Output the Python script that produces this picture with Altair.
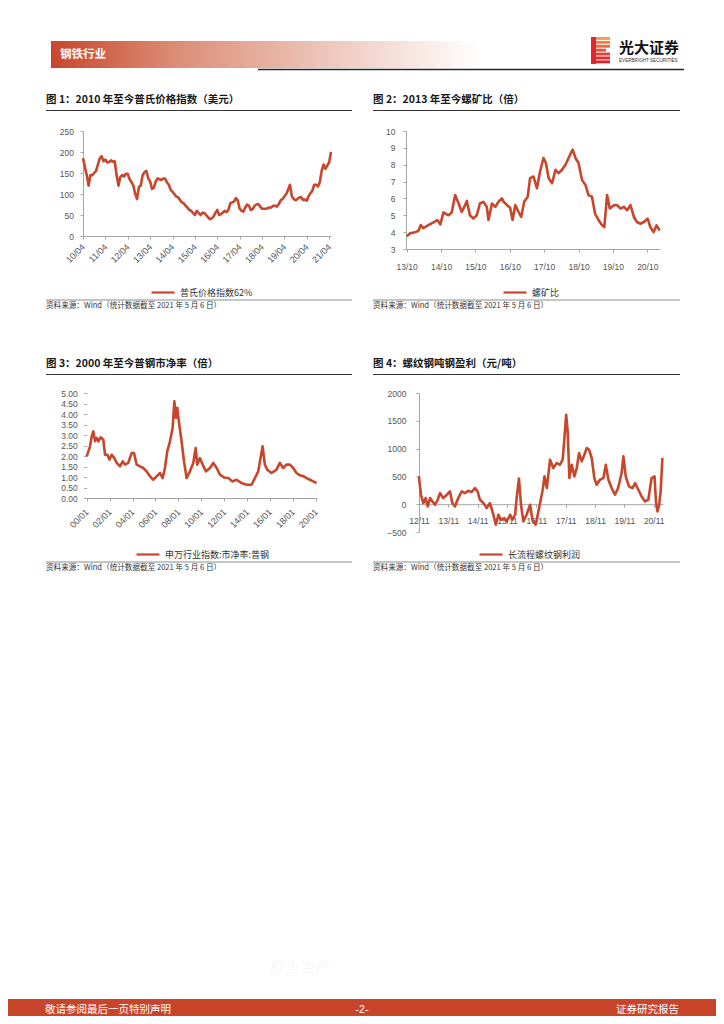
import altair as alt
import pandas as pd

# ---------------- text content ----------------
header_label = "钢铁行业"
brand_cn = "光大证券"
brand_en = "EVERBRIGHT SECURITIES"
footer_left = "敬请参阅最后一页特别声明"
footer_mid = "-2-"
footer_right = "证券研究报告"
watermark = "原点资产"
source_note = "资料来源：Wind（统计数据截至 2021 年 5 月 6 日）"

# ---------------- chart 1: Platts 62% ----------------
c1_title = "图 1：2010 年至今普氏价格指数（美元）"
c1_series = "普氏价格指数62%"
c1_start = "2010-04"
c1_values = [
    185, 165, 145, 120, 145, 145, 150, 155, 170,
    185, 190, 178, 182, 175, 176, 180, 177, 178, 145, 120, 140,
    145, 142, 148, 148, 135, 128, 120, 100, 88, 117, 120, 145,
    152, 155, 137, 130, 112, 115, 130, 137, 135, 133, 137, 137,
    128, 122, 110, 105, 100, 94, 92, 86, 80, 78, 72, 68,
    62, 60, 55, 50, 60, 55, 50, 55, 55, 50, 45, 40,
    42, 46, 55, 62, 50, 52, 56, 60, 57, 62, 78, 80,
    82, 90, 85, 65, 60, 58, 68, 75, 72, 62, 64, 72,
    75, 76, 70, 65, 65, 65, 66, 68, 68, 72, 72, 70,
    76, 85, 88, 94, 100, 110, 122, 95, 88, 85, 88, 92,
    92, 86, 87, 84, 95, 102, 108, 122, 122, 118, 128, 155,
    170, 160, 168, 175, 200,
]
c1_tick_pos = [2010.25, 2011.25, 2012.25, 2013.25, 2014.25, 2015.25,
               2016.25, 2017.25, 2018.25, 2019.25, 2020.25, 2021.25]
c1_tick_lab = ["10/04", "11/04", "12/04", "13/04", "14/04", "15/04",
               "16/04", "17/04", "18/04", "19/04", "20/04", "21/04"]
c1_yticks = [0, 50, 100, 150, 200, 250]

# ---------------- chart 2: rebar / ore ratio ----------------
c2_title = "图 2：2013 年至今螺矿比（倍）"
c2_series = "螺矿比"
c2_x = [
    2013.75, 2013.85, 2013.99, 2014.09, 2014.16, 2014.23, 2014.38, 2014.53, 2014.64, 2014.73,
    2014.82, 2014.97, 2015.06, 2015.16, 2015.26, 2015.35, 2015.45, 2015.50, 2015.59, 2015.69,
    2015.79, 2015.88, 2015.98, 2016.08, 2016.13, 2016.23, 2016.33, 2016.42, 2016.52, 2016.57,
    2016.67, 2016.76, 2016.83, 2016.91, 2016.98, 2017.08, 2017.17, 2017.27, 2017.34, 2017.44,
    2017.54, 2017.63, 2017.73, 2017.80, 2017.88, 2017.98, 2018.08, 2018.17, 2018.27, 2018.37,
    2018.46, 2018.53, 2018.58, 2018.66, 2018.75, 2018.85, 2018.95, 2019.04, 2019.14, 2019.23,
    2019.33, 2019.43, 2019.50, 2019.58, 2019.66, 2019.78, 2019.87, 2019.97, 2020.07, 2020.16,
    2020.26, 2020.36, 2020.45, 2020.55, 2020.65, 2020.76, 2020.84, 2020.93, 2021.02, 2021.11,
]
c2_values = [
    3.75, 3.93, 4.00, 4.07, 4.42, 4.23, 4.42, 4.58, 4.72, 4.46,
    5.17, 5.00, 5.17, 6.20, 5.70, 5.20, 5.60, 5.85, 5.00, 4.80,
    5.00, 5.70, 5.80, 5.50, 4.72, 5.70, 5.50, 5.80, 6.00, 5.80,
    5.60, 5.45, 4.72, 5.60, 5.30, 4.90, 5.80, 6.10, 7.20, 7.30,
    6.60, 7.60, 8.40, 8.10, 7.20, 6.90, 7.70, 7.50, 7.70, 8.00,
    8.40, 8.70, 8.90, 8.40, 8.10, 7.10, 6.80, 6.20, 6.10, 5.10,
    4.72, 4.42, 4.30, 6.20, 5.40, 5.60, 5.60, 5.40, 5.50, 5.30,
    5.60, 4.90, 4.60, 4.50, 4.60, 4.80, 4.30, 4.00, 4.40, 4.10,
]
c2_tick_pos = [2013.75, 2014.75, 2015.75, 2016.75, 2017.75, 2018.75, 2019.75, 2020.75]
c2_tick_lab = ["13/10", "14/10", "15/10", "16/10", "17/10", "18/10", "19/10", "20/10"]
c2_yticks = [3, 4, 5, 6, 7, 8, 9, 10]

# ---------------- chart 3: steel P/B ----------------
c3_title = "图 3：2000 年至今普钢市净率（倍）"
c3_series = "申万行业指数:市净率:普钢"
c3_x = [
    2000.00, 2000.15, 2000.29, 2000.44, 2000.58, 2000.73, 2000.87, 2001.02, 2001.22, 2001.45,
    2001.60, 2001.80, 2001.98, 2002.18, 2002.41, 2002.62, 2002.91, 2003.14, 2003.34, 2003.63,
    2003.92, 2004.13, 2004.36, 2004.65, 2004.94, 2005.23, 2005.52, 2005.81, 2006.10, 2006.40,
    2006.63, 2006.83, 2007.03, 2007.27, 2007.50, 2007.65, 2007.79, 2007.91, 2008.08, 2008.28,
    2008.49, 2008.72, 2009.01, 2009.30, 2009.51, 2009.65, 2009.88, 2010.12, 2010.41, 2010.76,
    2011.05, 2011.34, 2011.63, 2011.98, 2012.35, 2012.73, 2013.08, 2013.52, 2013.95, 2014.39,
    2014.68, 2014.97, 2015.17, 2015.35, 2015.55, 2015.76, 2016.13, 2016.57, 2016.86, 2017.15,
    2017.44, 2017.73, 2018.02, 2018.31, 2018.60, 2018.95, 2019.19, 2019.48, 2019.77, 2020.06,
]
c3_values = [
    1.98, 2.22, 2.46, 2.94, 3.17, 2.70, 2.86, 2.70, 2.89, 2.78,
    2.06, 2.06, 1.83, 2.06, 1.90, 1.67, 1.51, 1.75, 1.59, 1.67,
    2.14, 2.14, 1.59, 1.51, 1.43, 1.27, 1.03, 0.87, 1.03, 1.19,
    0.95, 1.43, 2.22, 2.70, 3.33, 4.60, 3.81, 4.29, 3.49, 2.70,
    1.75, 0.95, 1.27, 1.67, 2.38, 1.59, 1.90, 1.59, 1.27, 1.43,
    1.67, 1.43, 1.11, 0.98, 0.95, 0.79, 0.87, 0.71, 0.63, 0.63,
    0.95, 1.27, 1.90, 2.46, 1.59, 1.35, 1.19, 1.35, 1.67, 1.43,
    1.59, 1.59, 1.43, 1.19, 1.08, 1.03, 0.95, 0.87, 0.79, 0.71,
]
c3_tick_pos = [2000, 2002, 2004, 2006, 2008, 2010, 2012, 2014, 2016, 2018, 2020]
c3_tick_lab = ["00/01", "02/01", "04/01", "06/01", "08/01", "10/01",
               "12/01", "14/01", "16/01", "18/01", "20/01"]
c3_yticks = [0, 0.5, 1, 1.5, 2, 2.5, 3, 3.5, 4, 4.5, 5]

# ---------------- chart 4: rebar profit ----------------
c4_title = "图 4：螺纹钢吨钢盈利（元/吨）"
c4_series = "长流程螺纹钢利润"
c4_x = [
    2012.83, 2012.90, 2012.98, 2013.06, 2013.13, 2013.21, 2013.29, 2013.38, 2013.47, 2013.55,
    2013.66, 2013.78, 2013.89, 2013.97, 2014.06, 2014.17, 2014.29, 2014.40, 2014.51, 2014.63,
    2014.74, 2014.83, 2014.91, 2015.03, 2015.14, 2015.25, 2015.37, 2015.45, 2015.54, 2015.63,
    2015.74, 2015.82, 2015.94, 2016.02, 2016.11, 2016.16, 2016.24, 2016.31, 2016.39, 2016.50,
    2016.62, 2016.70, 2016.81, 2016.88, 2016.96, 2017.04, 2017.11, 2017.19, 2017.30, 2017.41,
    2017.53, 2017.64, 2017.73, 2017.79, 2017.85, 2017.90, 2017.96, 2018.04, 2018.13, 2018.21,
    2018.29, 2018.38, 2018.47, 2018.55, 2018.63, 2018.72, 2018.81, 2018.89, 2019.00, 2019.12,
    2019.20, 2019.29, 2019.40, 2019.51, 2019.62, 2019.74, 2019.80, 2019.88, 2019.99, 2020.11,
    2020.20, 2020.31, 2020.42, 2020.54, 2020.65, 2020.76, 2020.86, 2020.91, 2020.96, 2021.02,
    2021.07, 2021.13,
]
c4_values = [
    500, 170, 20, 110, -40, 110, 50, -10, 80, 200,
    110, 170, 230, 20, -40, 110, 230, 200, 240, 220,
    290, 230, 80, 20, -70, 20, -190, -370, -190, -280,
    -250, -310, -190, -280, -190, 110, 460, -10, -310, -190,
    -10, -280, -370, -190, 20, 230, 500, 290, 800, 650,
    740, 710, 800, 1190, 1610, 1310, 470, 710, 500, 650,
    920, 770, 890, 1010, 980, 830, 470, 350, 440, 470,
    710, 440, 290, 170, 290, 560, 860, 500, 320, 290,
    380, 260, 140, 50, 80, 470, 500, 50, -130, -10,
    230, 830,
]
c4_tick_pos = [2012.8333, 2013.8333, 2014.8333, 2015.8333, 2016.8333,
               2017.8333, 2018.8333, 2019.8333, 2020.8333]
c4_tick_lab = ["12/11", "13/11", "14/11", "15/11", "16/11", "17/11", "18/11", "19/11", "20/11"]
c4_yticks = [-500, 0, 500, 1000, 1500, 2000]

# ---------------- styling ----------------
RED = "#C8462B"
AXC = "#A6A6A6"
LBL = "#555555"
CJK = "Noto Sans CJK SC"
LAT = "Liberation Sans"
W, H = 708, 1008
OX, OY = 8, 8


def px(v):
    return v - OX


def py(v):
    return v - OY


dummy = pd.DataFrame({"k": [0]})


def text(x, y, s, size, color="#1a1a1a", font=CJK, weight="normal", align="left", baseline="middle"):
    return alt.Chart(dummy).mark_text(
        text=s, fontSize=size, color=color, font=font, fontWeight=weight,
        align=align, baseline=baseline
    ).encode(x=alt.value(px(x)), y=alt.value(py(y)))


def hrule(x0, x1, y, color, w):
    return alt.Chart(dummy).mark_rule(color=color, strokeWidth=w).encode(
        x=alt.value(px(x0)), x2=alt.value(px(x1)), y=alt.value(py(y)))


def rect(x0, x1, y0, y1, fill):
    return alt.Chart(dummy).mark_rect(fill=fill, strokeWidth=0).encode(
        x=alt.value(px(x0)), x2=alt.value(px(x1)), y=alt.value(py(y0)), y2=alt.value(py(y1)))


def label_expr(pos, labs):
    first = pos[0]
    step = pos[1] - pos[0]
    arr = "[" + ",".join("'%s'" % s for s in labs) + "]"
    return "%s[round((datum.value - %s) / %s)]" % (arr, first, step)


def panel(df, cfg):
    xa = alt.Axis(
        orient="bottom", offset=py(cfg["xaxis_y"]) - H, values=cfg["xticks"],
        labelExpr=label_expr(cfg["xticks"], cfg["xlabs"]), grid=False,
        domainColor=AXC, tickColor=AXC, tickSize=3, domainWidth=1,
        labelFont=LAT, labelFontSize=cfg["xfs"], labelColor=LBL,
        labelAngle=cfg["angle"], labelAlign=cfg["xalign"], labelBaseline=cfg["xbase"],
        labelPadding=cfg["xpad"], labelFlush=False, labelOverlap=False, title=None,
    )
    ya = alt.Axis(
        orient="left", offset=-px(cfg["plot_x"][0]), values=cfg["yticks"],
        format=cfg["yfmt"], grid=False, domain=cfg["ydomain"],
        domainColor=AXC, tickColor=AXC, tickSize=3,
        labelFont=LAT, labelFontSize=8.5, labelColor=LBL,
        labelPadding=cfg["ypad"], labelFlush=False, labelOverlap=False, title=None,
    )
    line = alt.Chart(df).mark_line(strokeWidth=2.6, strokeJoin="round").encode(
        x=alt.X("x:Q", scale=alt.Scale(domain=cfg["xdom"], range=[px(cfg["plot_x"][0]), px(cfg["plot_x"][1])],
                                       nice=False, zero=False), axis=xa),
        y=alt.Y("y:Q", scale=alt.Scale(domain=cfg["ydom"], range=[py(cfg["plot_y"][0]), py(cfg["plot_y"][1])],
                                       nice=False, zero=False), axis=ya),
        color=alt.Color("s:N", scale=alt.Scale(range=[RED]), legend=alt.Legend(
            orient="none", legendX=px(cfg["leg"][0]), legendY=py(cfg["leg"][1]) - 12.5,
            title=None, symbolType="stroke", symbolSize=529, symbolStrokeWidth=2.2,
            labelFont=CJK, labelFontSize=9, labelColor="#333333", labelOffset=4, padding=0)),
    )
    L, R = cfg["frame"]
    ty = cfg["title_y"]
    return [
        text(L, ty, cfg["title"], 10.5, weight="bold"),
        hrule(L, R, ty + 10.5, "#333333", 1),
        line,
        hrule(L, R, cfg["src_y"] - 6, "#8c8c8c", 1),
        text(L, cfg["src_y"], source_note, 7.6, color="#333333"),
    ]


def mk(x, y, name):
    return pd.DataFrame({"x": x, "y": y, "s": name})


per = pd.period_range(c1_start, periods=len(c1_values), freq="M")
c1_x = [p.year + (p.month - 1) / 12 for p in per]

cfg1 = dict(title=c1_title, frame=(46, 352), title_y=100, plot_x=(83, 331), plot_y=(236, 131),
            xdom=[2010.25, 2021.3333], ydom=[0, 250], xaxis_y=236, xticks=c1_tick_pos, xlabs=c1_tick_lab,
            angle=315, xalign="right", xbase="middle", xpad=6, xfs=9, yticks=c1_yticks, yfmt="d", ydomain=True,
            ypad=6.5, leg=(150, 292), src_y=306)
cfg2 = dict(title=c2_title, frame=(373, 680), title_y=100, plot_x=(406, 660), plot_y=(249, 131),
            xdom=[2013.73, 2021.12], ydom=[3, 10], xaxis_y=249, xticks=c2_tick_pos, xlabs=c2_tick_lab,
            angle=0, xalign="center", xbase="top", xpad=10, xfs=8.5, yticks=c2_yticks, yfmt="d", ydomain=True,
            ypad=8, leg=(502, 292), src_y=306)
cfg3 = dict(title=c3_title, frame=(46, 352), title_y=364, plot_x=(86.7, 317), plot_y=(498, 393),
            xdom=[2000, 2020.1], ydom=[0, 5], xaxis_y=498, xticks=c3_tick_pos, xlabs=c3_tick_lab,
            angle=315, xalign="right", xbase="middle", xpad=9, xfs=9, yticks=c3_yticks, yfmt=".2f", ydomain=False,
            ypad=6.5, leg=(135, 554), src_y=568)
cfg4 = dict(title=c4_title, frame=(373, 680), title_y=364, plot_x=(419, 663), plot_y=(532, 393),
            xdom=[2012.8333, 2021.15], ydom=[-500, 2000], xaxis_y=504.2, xticks=c4_tick_pos, xlabs=c4_tick_lab,
            angle=0, xalign="center", xbase="top", xpad=9, xfs=8.5, yticks=c4_yticks, yfmt="d", ydomain=True,
            ypad=10, leg=(478, 554), src_y=568)

layers = []

# header
grad = alt.LinearGradient(
    gradient="linear", x1=0, x2=1, y1=0, y2=0,
    stops=[alt.GradientStop(offset=0, color="#C8462C"),
           alt.GradientStop(offset=0.3, color="#DC8F78"),
           alt.GradientStop(offset=0.65, color="#EDC8BD"),
           alt.GradientStop(offset=1, color="#FFFFFF")])
layers.append(rect(51, 480, 41, 68, grad))
layers.append(text(60, 55, header_label, 11.5, color="#FFFFFF", weight="bold"))
layers.append(hrule(258, 684, 69.5, "#262626", 1.3))
# logo icon (stacked stripes)
stripe_cols = ["#F39A55", "#F08245", "#EC6A3C", "#E95336", "#E63E31", "#E42B2D", "#E21E2A"]
for i, c in enumerate(stripe_cols):
    y0 = 37 + i * 3.9
    right = 606 if i in (3,) else 610
    layers.append(rect(591, right, y0, y0 + 2.9, c))
layers.append(rect(591, 596, 37, 64, "#E4262C"))
layers.append(text(619, 48, brand_cn, 15, color="#111111", weight="bold"))
layers.append(text(619, 60.5, brand_en, 4.6, color="#333333", font=LAT))

# panels
layers += panel(mk(c1_x, c1_values, c1_series), cfg1)
layers += panel(mk(c2_x, c2_values, c2_series), cfg2)
layers += panel(mk(c3_x, c3_values, c3_series), cfg3)
layers += panel(mk(c4_x, c4_values, c4_series), cfg4)

# watermark + footer
layers.append(text(270, 968, watermark, 15, color="#F8F8F8"))
layers.append(rect(8, 716, 999, 1016, "#C8442A"))
layers.append(text(45, 1010, footer_left, 10.5, color="#FFFFFF"))
layers.append(text(362, 1010, footer_mid, 10.5, color="#FFFFFF", font=LAT, align="center"))
layers.append(text(679, 1010, footer_right, 10.5, color="#FFFFFF", align="right"))

chart = alt.layer(*layers).properties(
    width=W, height=H, padding=0, autosize=alt.AutoSizeParams(type="none")
).resolve_scale(
    x="independent", y="independent", color="independent"
).configure_view(stroke=None)

chart.save("out.html", embed_options={"renderer": "svg", "actions": False})
